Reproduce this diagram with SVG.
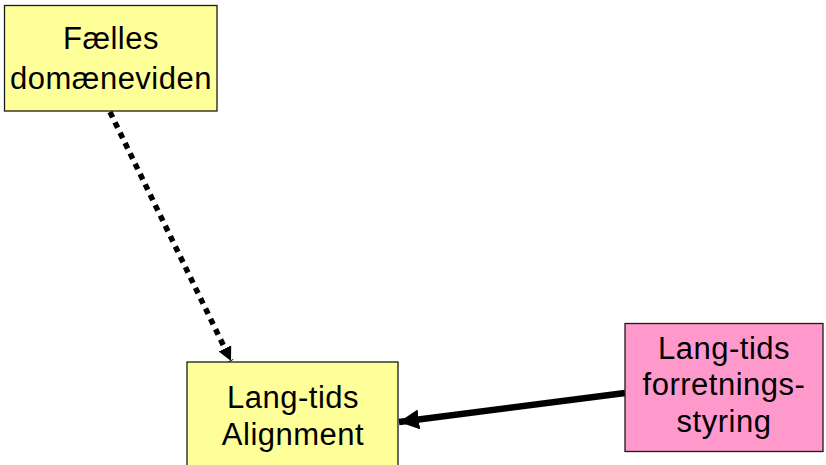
<svg xmlns="http://www.w3.org/2000/svg" width="826" height="465" viewBox="0 0 826 465">
<style>
.box{stroke:#1a1a1a;stroke-width:1.3}
.yellow{fill:#FFFF99}
.pink{fill:#FF99CC}
.lbl{font-family:"Liberation Sans",Arial,sans-serif;font-size:31px;letter-spacing:0.5px;fill:#000;text-anchor:middle}
</style>
<defs>
<marker id="headS" markerUnits="userSpaceOnUse" markerWidth="20" markerHeight="20" viewBox="0 0 17 17" refX="17" refY="8.5" orient="auto">
<path d="M0,0 L17,8.5 L0,17 Z" fill="#000"/>
</marker>
<marker id="headD" markerUnits="userSpaceOnUse" markerWidth="14" markerHeight="14" viewBox="0 0 13 13" refX="13" refY="6.5" orient="auto">
<path d="M0,0 L13,6.5 L0,13 Z" fill="#000"/>
</marker>
</defs>
<g id="connectors">
<line x1="110" y1="112" x2="231" y2="361" stroke="#000" stroke-width="5.5" stroke-dasharray="6 5.5" marker-end="url(#headD)"/>
<line x1="625" y1="393" x2="399" y2="422" stroke="#000" stroke-width="6.5" marker-end="url(#headS)"/>
</g>
<g id="node-faelles">
<rect class="box yellow" x="4.5" y="5.5" width="212.5" height="105.5"/>
<text class="lbl" x="111" y="48.5">Fælles</text>
<text class="lbl" x="111" y="88.5">domæneviden</text>
</g>
<g id="node-alignment">
<rect class="box yellow" x="187" y="362" width="211" height="110"/>
<text class="lbl" x="293" y="407.5">Lang-tids</text>
<text class="lbl" x="293" y="445">Alignment</text>
</g>
<g id="node-styring">
<rect class="box pink" x="625" y="323.5" width="198" height="128"/>
<text class="lbl" x="724" y="358.5">Lang-tids</text>
<text class="lbl" x="724" y="395">forretnings-</text>
<text class="lbl" x="724" y="431.5">styring</text>
</g>
</svg>
